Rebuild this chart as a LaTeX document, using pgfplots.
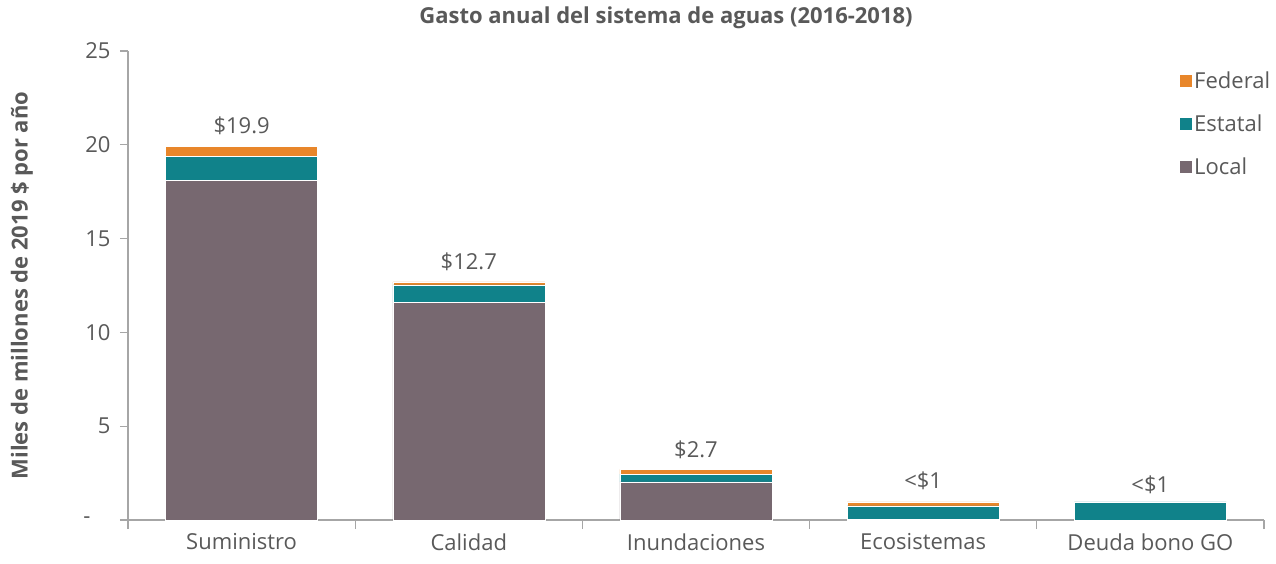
\documentclass[border=0pt]{standalone}
\usepackage{pgfplots}
\pgfplotsset{compat=1.18}
\usepackage{fontspec}
\setmainfont{Open Sans}
\definecolor{cFed}{HTML}{E8862A}
\definecolor{cEst}{HTML}{10828A}
\definecolor{cLoc}{HTML}{776870}
\definecolor{cTxt}{HTML}{595959}
\definecolor{cAx}{HTML}{A6A6A6}
\begin{document}
\begin{tikzpicture}
\path[use as bounding box] (-128pt,-43pt) rectangle (1148pt,520pt);
\begin{axis}[
  scale only axis, width=1136pt, height=469pt,
  at={(0,0)}, anchor=south west,
  ybar stacked, bar width=152pt,
  xmin=-0.5, xmax=4.5, ymin=0, ymax=25,
  xtick={0,1,2,3,4},
  xticklabels={Suministro,Calidad,Inundaciones,Ecosistemas,Deuda bono GO},
  minor xtick={-0.5,0.5,1.5,2.5,3.5,4.5},
  ytick={0,5,10,15,20,25},
  yticklabels={{\hbox{-\kern20pt}},5,10,15,20,25},
  axis x line=bottom, axis y line=left,
  axis line style={-, cAx, line width=1.2pt},
  tick style={cAx, line width=1.2pt},
  major x tick style={draw=none},
  tick align=outside,
  major tick length=8pt, minor tick length=9pt,
  ticklabel style={font=\fontsize{22}{26}\selectfont, text=cTxt},
  /pgf/number format/assume math mode=true,
  xticklabel style={yshift=-2pt},
  yticklabel style={xshift=-6pt},
  ylabel={\textbf{Miles de millones de 2019 \$ por año}},
  ylabel style={font=\fontsize{22}{26}\selectfont, text=cTxt, at={(axis description cs:-0.0933,0.5)}, anchor=center},
  legend cell align=left,
  reverse legend,
  legend style={at={(1.01,0.965)}, anchor=north east, draw=none, fill=none,
    font=\fontsize{22}{26}\selectfont, text=cTxt, row sep=21pt,
    /tikz/every even column/.append style={column sep=2pt}},
  legend image code/.code={\fill[#1] (0pt,-6.5pt) rectangle (13pt,6.5pt);},
  clip=false,
]
\addplot[fill=cLoc, draw=white, line width=0.4pt] coordinates {(0,18.12) (1,11.62) (2,2.03) (3,0.03) (4,0)};
\addlegendentry{Local}
\addplot[fill=cEst, draw=white, line width=0.4pt] coordinates {(0,1.28) (1,0.91) (2,0.42) (3,0.72) (4,0.96)};
\addlegendentry{Estatal}
\addplot[fill=cFed, draw=white, line width=0.4pt] coordinates {(0,0.50) (1,0.17) (2,0.25) (3,0.21) (4,0)};
\addlegendentry{Federal}
\node[font=\fontsize{22}{26}\selectfont, text=cTxt, anchor=south] at (axis cs:0,20.35) {\$19.9};
\node[font=\fontsize{22}{26}\selectfont, text=cTxt, anchor=south] at (axis cs:1,13.1) {\$12.7};
\node[font=\fontsize{22}{26}\selectfont, text=cTxt, anchor=south] at (axis cs:2,3.1) {\$2.7};
\node[font=\fontsize{22}{26}\selectfont, text=cTxt, anchor=south] at (axis cs:3,1.4) {<\$1};
\node[font=\fontsize{22}{26}\selectfont, text=cTxt, anchor=south] at (axis cs:4,1.2) {<\$1};
\end{axis}
\node[font=\bfseries\fontsize{22}{26}\selectfont, text=cTxt] at (538pt,502pt) {Gasto anual del sistema de aguas (2016-2018)};
\end{tikzpicture}
\end{document}
